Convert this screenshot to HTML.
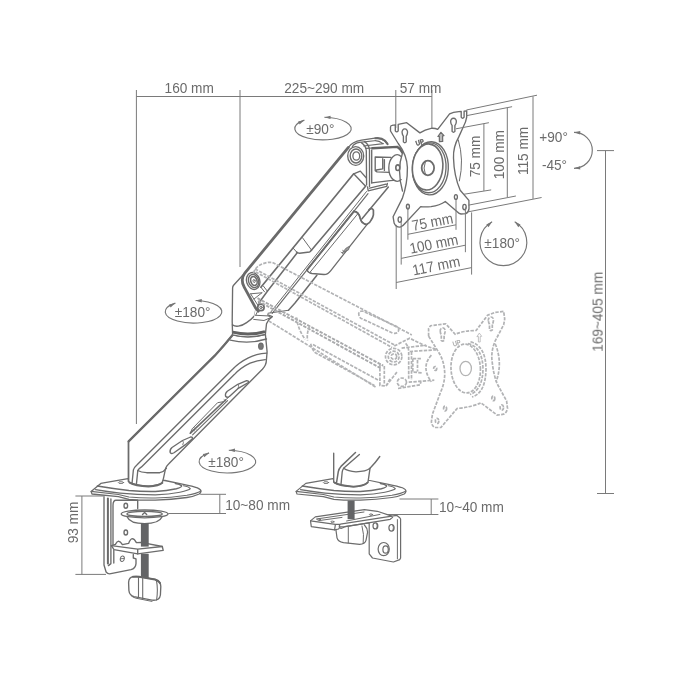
<!DOCTYPE html>
<html><head><meta charset="utf-8">
<style>
html,body{margin:0;padding:0;background:#fff;overflow:hidden;}
svg{display:block;}
text{font-family:"Liberation Sans","DejaVu Sans",sans-serif;fill:#6a6a6a;}
.d{stroke:#7a7a7a;stroke-width:1;fill:none;}
.o{stroke:#6c6c6c;stroke-width:1.35;fill:none;stroke-linejoin:round;stroke-linecap:round;}
.t{stroke:#6a6a6a;stroke-width:2.2;fill:none;stroke-linecap:round;}
.g{stroke:#b2b3b5;stroke-width:1.7;fill:none;stroke-dasharray:3.4 1.3;}
</style></head><body>
<svg width="683" height="683" viewBox="0 0 683 683">
<rect width="683" height="683" fill="#fff"/>
<!-- DIMS -->
<g id="dims" class="d">
<path d="M136.4 90V424"/>
<path d="M240 90V267"/>
<path d="M136.4 96.5H431.9"/>
<path d="M395.8 90V128"/>
<path d="M431.9 90V128"/>
<!-- right tall -->
<path d="M605.5 150.6V493.5M597 150.6H614M597 493.5H614"/>
<!-- 93 -->
<path d="M81.9 496V574.4M75.4 496H104.8M75.4 574.4H106"/>
<!-- 10-80 -->
<path d="M200.2 494.3H226M168.3 513.5H226M219.8 494.3V513.5"/>
<!-- 10-40 -->
<path d="M399.5 499H438.4M366 514.5H438.4M431.2 499V514.5"/>
</g>
<g id="txt" font-size="15" style="opacity:.995">
<text transform="translate(189.2 92.8) scale(0.91 1)" text-anchor="middle">160 mm</text>
<text transform="translate(324.2 92.8) scale(0.91 1)" text-anchor="middle">225~290 mm</text>
<text transform="translate(420.6 92.8) scale(0.91 1)" text-anchor="middle">57 mm</text>
<text transform="translate(480 156.5) rotate(-90) scale(0.91 1)" text-anchor="middle">75 mm</text>
<text transform="translate(504 154.7) rotate(-90) scale(0.91 1)" text-anchor="middle">100 mm</text>
<text transform="translate(528.3 151) rotate(-90) scale(0.91 1)" text-anchor="middle">115 mm</text>
<text transform="translate(433.4 227) rotate(-11.3) scale(0.91 1)" text-anchor="middle">75 mm</text>
<text transform="translate(434.8 249) rotate(-11.3) scale(0.91 1)" text-anchor="middle">100 mm</text>
<text transform="translate(437.2 270.8) rotate(-11.3) scale(0.91 1)" text-anchor="middle">117 mm</text>
<text transform="translate(502.2 248.2) scale(0.91 1)" text-anchor="middle">±180°</text>
<text transform="translate(320.3 134) scale(0.91 1)" text-anchor="middle">±90°</text>
<text transform="translate(192.6 316.8) scale(0.91 1)" text-anchor="middle">±180°</text>
<text transform="translate(226 466.8) scale(0.91 1)" text-anchor="middle">±180°</text>
<text transform="translate(539.3 141.8) scale(0.91 1)" text-anchor="start">+90°</text>
<text transform="translate(541.9 170.2) scale(0.91 1)" text-anchor="start">-45°</text>
<text transform="translate(602.6 311.8) rotate(-90) scale(0.91 1)" text-anchor="middle">169~405 mm</text>
<text transform="translate(78.3 522.5) rotate(-90) scale(0.91 1)" text-anchor="middle">93 mm</text>
<text transform="translate(225.2 509.6) scale(0.91 1)" text-anchor="start">10~80 mm</text>
<text transform="translate(439 512.3) scale(0.91 1)" text-anchor="start">10~40 mm</text>
</g>
<g id="rot" class="d" style="stroke:#767676;stroke-width:1.15">
<path d="M324.4 117.3 A28.2 11.3 0 1 1 304.4 120.1"/>
<path d="M324.4 117.3 L330.6 115.7 L330.5 119.1 Z" fill="#767676" stroke="none"/>
<path d="M304.4 120.1 L299.7 124.4 L298.1 121.4 Z" fill="#767676" stroke="none"/>
<path d="M195.6 300.5 A28.3 11.3 0 1 1 175.4 303.1"/>
<path d="M195.6 300.5 L201.8 299.0 L201.7 302.4 Z" fill="#767676" stroke="none"/>
<path d="M175.4 303.1 L170.6 307.4 L169.1 304.4 Z" fill="#767676" stroke="none"/>
<path d="M228.8 450.2 A28.3 11.4 0 1 1 209.1 452.9"/>
<path d="M228.8 450.2 L235.0 448.6 L234.9 452.0 Z" fill="#767676" stroke="none"/>
<path d="M209.1 452.9 L204.3 457.2 L202.8 454.1 Z" fill="#767676" stroke="none"/>
<path d="M514.7 221.8 A23.4 23.4 0 1 1 492.1 221.8"/>
<path d="M514.7 221.8 L520.5 224.6 L518.3 227.2 Z" fill="#767676" stroke="none"/>
<path d="M492.1 221.8 L488.5 227.2 L486.3 224.6 Z" fill="#767676" stroke="none"/>
<path d="M574.0 132.3 A18.3 18 0 1 1 574.0 168.3"/>
<path d="M574.0 132.3 L580.3 131.0 L580.1 134.4 Z" fill="#767676" stroke="none"/>
<path d="M574.0 168.3 L580.1 166.2 L580.3 169.6 Z" fill="#767676" stroke="none"/>
</g>
<!-- BASE1 -->
<g id="base1" class="o">
<g transform="translate(-205 0)">
<!-- plate -->
<path fill="#fff" d="M296.1 491.4 L305.8 483.4 L333 478.7 L369.9 480.5 L388.4 484.3 Q398 486.2 402.4 487.8 Q406.2 489.4 406 491.4 Q405.6 493 404.2 494 Q399 496.4 391.9 497.5 Q376 499.8 360.3 500.1 Q346 500.4 333.9 499.3 L323.4 496.6 L297 494 Z"/>
<path d="M296.1 491.4 L323.4 494.5 L333.9 497 Q346 498.2 360.3 498 Q376 497.6 391.9 495.2 Q402 493.4 405.6 491.2" stroke-width="1.1"/>
<path d="M300.5 489.6 Q312 491.6 325.1 493.1 Q342 494.8 360.3 494.9 Q374 494.4 384.9 492.2 Q394 490.4 395.4 488.7 Q394 486.6 388.4 485.7" stroke-width="1.1"/>
<path d="M302.3 486.1 Q318 488.8 333.9 490.5 Q347 491.6 360.3 491.4 Q372 490.8 381.4 488.7 Q387 487.2 386.6 485.7 Q385 484 380.4 483.4" style="stroke-width:1.5"/>
<ellipse cx="326" cy="482.6" rx="2.7" ry=".9" stroke-width=".9"/>
</g>
<!-- bracket -->
<path d="M104 497 V565 L106.1 572 Q107.5 573.8 109.6 573.8 L131 569.6 Q135.6 568.4 136 563.6 V558.8 L133.3 558 V554.4"/>
<path class="t" style="stroke-width:2" d="M107.9 498.6 V563.6"/>
<path d="M110.9 499 V563.6 L108.4 565.6 M113 505.4 Q113 500.2 116 500.2 H137.7 V508.5 M113 505.4 V544.8 M113.8 550.2 V563"/>
<ellipse cx="125.8" cy="505.7" rx="1.8" ry="2.5"/>
<ellipse cx="125.8" cy="532.5" rx="1.8" ry="2.5"/>
<ellipse cx="122.3" cy="558.8" rx="2" ry="2.8" stroke-width="1" transform="rotate(12 122.3 558.8)"/><path d="M120.6 558.8l3.4 -.4" stroke-width=".9"/>
<!-- shelf -->
<path fill="#fff" d="M111.4 545.6 L115.4 544.4 Q117 541.4 118.6 541.2 Q120.4 541.2 122.4 544.6 L128.6 543.4 Q130.4 539 132.2 538.7 Q134.4 538.8 136.4 542.6 L141 542.4 L162.3 546.5 L163.2 550.4 L137.7 553.9 L114 549.7 Z"/>
<path d="M111.4 545.6 L137.7 549.2 L162.3 546.5 M137.7 549.2 V553.9"/>
<!-- clamp disc -->
<ellipse cx="144.6" cy="513.9" rx="23.4" ry="3.9" fill="#fff"/>
<ellipse cx="144.6" cy="513.9" rx="17.6" ry="2.5"/>
<path d="M127.2 517 Q130 523.6 144.6 523.6 Q159 523.6 162 517"/>
<path d="M142.5 514.6 l2.1 -2 l2.1 2"/>
<!-- screw -->
<rect x="140.9" y="523.2" width="7.8" height="23.4" fill="#636466" stroke="none"/>
<rect x="140.9" y="553.8" width="7.8" height="24.4" fill="#636466" stroke="none"/>
<!-- knob -->
<path fill="#fff" d="M133.6 576.6 Q128.8 577 128.6 582.5 L128.9 590.5 Q129.4 595.4 134 596.6 L152 600.2 Q159.6 601 160.4 595 L160.8 586.5 Q160.6 581 155 579.4 L139 576.6 Q136 576.3 133.6 576.6 Z"/>
<path style="stroke-width:2;stroke:#666" d="M133 576.8 L139 576.7 L155 579.5 Q158.6 580.5 160 583"/>
<path d="M138.5 577 V597.4 M142.7 577.4 V598.2 M156.4 580.4 Q158.2 589 156.6 600" stroke-width="1.1"/>
<path d="M131 595.6 Q133 597.6 136 598.2 L152 601.4" stroke-width="1"/>
</g>
<!-- BASE2 -->
<g id="base2" class="o" style="stroke-width:1.2">
<!-- plate -->
<path fill="#fff" d="M296.1 491.4 L305.8 483.4 L333 478.7 L369.9 480.5 L388.4 484.3 Q398 486.2 402.4 487.8 Q406.2 489.4 406 491.4 Q405.6 493 404.2 494 Q399 496.4 391.9 497.5 Q376 499.8 360.3 500.1 Q346 500.4 333.9 499.3 L323.4 496.6 L297 494 Z"/>
<path d="M296.1 491.4 L323.4 494.5 L333.9 497 Q346 498.2 360.3 498 Q376 497.6 391.9 495.2 Q402 493.4 405.6 491.2" stroke-width="1.1"/>
<path d="M300.5 489.6 Q312 491.6 325.1 493.1 Q342 494.8 360.3 494.9 Q374 494.4 384.9 492.2 Q394 490.4 395.4 488.7 Q394 486.6 388.4 485.7" stroke-width="1.1"/>
<path d="M302.3 486.1 Q318 488.8 333.9 490.5 Q347 491.6 360.3 491.4 Q372 490.8 381.4 488.7 Q387 487.2 386.6 485.7 Q385 484 380.4 483.4" style="stroke-width:1.5"/>
<ellipse cx="326" cy="482.6" rx="2.7" ry=".9" stroke-width=".9"/>
<!-- knob -->
<path fill="#fff" d="M335.7 528 L337 537.8 Q338 541.6 343.5 542.7 L359.6 544.3 Q365 544 366 540.3 L367.6 532.2 Q367.4 528 364.4 525"/>
<path d="M348.3 527 V542.9 M362 526 Q364.4 534 363.2 543.4" stroke-width="1"/>
<!-- clamp bracket -->
<path fill="#fff" d="M369.2 524 V553.9 L372.5 558 L393.4 562 L399.8 559.6 L400.6 558 V519 L399.8 517.7 L396.6 515.3 L391.8 516.1 L377.3 511.3 L364.4 509.7 L315.3 516.9 L310.5 520.9 L311.3 526.6 L334.6 529.8 L338.6 529 L340 526.8 L345.1 526.6 L369.2 522.8 Z"/>
<path d="M310.5 520.9 L335.4 524.4 L340.3 524.2 L391.8 516.1 M345.1 526.6 L390.2 519.3 L392.6 517.4 M340.3 524.2 Q338.6 526 339.6 527.8 Q341.6 529.2 345.1 526.6 M335.4 524.4 L334.6 529.8"/>
<path d="M316.5 519 L364 512 M319 520.6 L342 517.4 M346.6 521 L380 514.4" stroke-width="1"/>
<path d="M397.4 519.6 V558.8" stroke-width="1"/>
<rect x="347.6" y="500.6" width="7" height="18.6" fill="#636466" stroke="none"/>
<ellipse cx="375.4" cy="525.9" rx="2.4" ry="3"/>
<path d="M376.6 523.4 Q378 526 376.6 528.4" stroke-width=".9"/>
<ellipse cx="391.5" cy="527.8" rx="2.6" ry="3.3"/>
<path d="M392.8 525 Q394.2 527.8 392.8 530.6" stroke-width=".9"/>
<ellipse cx="383.7" cy="549.1" rx="5.6" ry="6.6"/>
<ellipse cx="385.6" cy="549.5" rx="2.7" ry="3.7"/>
<ellipse cx="318.8" cy="519.6" rx="1.6" ry=".7" stroke-width=".9"/>
<ellipse cx="332.4" cy="521.8" rx="1.6" ry=".7" stroke-width=".9"/>
<ellipse cx="371" cy="514.6" rx="1.6" ry=".7" stroke-width=".9"/>
</g>
<!-- ARM -->
<g id="arm" class="o">
<!-- foot2 -->
<g id="foot2">
<path fill="#fff" d="M333.7 453.2 V482.2 Q340 486 353.5 486.8 Q364 486.2 368 482.2 L370 468.3 Q376 462 379.8 456.5 L355.5 452.5 Z" stroke="none"/>
<path d="M333.7 453.2 V482.2 Q340 486 353.5 486.8 Q364 486.2 368 482.2 L370 468.3 Q376 462 379.8 456.5"/>
<path style="stroke-width:1.9" d="M334.5 482.6 Q340 485.8 353.5 486.6 Q364 486 367.6 482.6"/>
<path stroke-width="1.5" d="M355.5 452.5 L341 466.4 Q338.6 469 338.3 471.6 L336.4 483.5"/>
<path d="M359.4 454.5 L343.6 468.3 Q342.4 470 342.2 472 L341 484.4"/>
<path d="M343.6 468.3 Q348 471.4 356 471.8 Q366 471.6 370 468.3"/>
</g>
<!-- lower arm body -->
<path fill="#fff" d="M232.6 335 Q225 344.5 215 355.4 L128.3 441.6 V481.5 Q134 485 146 485.9 Q157 486 162 483 L163.4 478.6 L165.6 468.3 Q166.8 465.4 168.6 463.9 L262.4 369.3 Q266.4 365 266.4 360 L267.1 351.9 L265.4 334.3 Z"/>
<path class="t" style="stroke-width:2.2" d="M232.6 335 Q225 344.5 215 355.4 L128.6 441.4"/>
<path d="M128.7 441.4 V481.5"/>
<path style="stroke-width:1.9" d="M129.5 482.6 Q135 485.8 148.5 486.6 Q159 486 162.4 482.8"/>
<!-- ring lines under collar -->
<path d="M232.6 334.9 Q249 339 265.4 334.3"/>
<path d="M230.2 340.1 Q249 344.5 266.5 339"/>
<!-- side panel outer -->
<path d="M266.6 353.2 Q256 354 248.4 357.9 Q239 362.5 232.6 369.3 L137.1 464.7 Q134 467.5 133.4 469.8 L132 483.7"/>
<!-- inner panel -->
<path d="M265.3 359.6 Q257 360.2 250.1 363.2 Q241 367.5 234.3 374.6 L141.5 466.9 Q138.6 468.8 137.8 470.5 L136.4 484.4"/>
<path d="M137.8 470.5 Q141 472.5 146.6 472.7 L159.8 472.7 Q164 471.5 166.4 468.3"/>
<!-- slots -->
<path d="M227.3 391.3 L237.8 384.3 L246.6 380.7 Q248.8 380.6 248.4 382.5 L237.8 388.7 L229.4 396.5 Q227 398 225.6 396.3 Q224.8 393.6 227.3 391.3 Z"/>
<path d="M238 384.4 Q239.6 386 238.2 388.4" stroke-width=".9"/>
<path d="M172 447.5 L182.5 440.5 L190.6 437 Q192.8 436.8 192.4 438.8 L185.1 444.9 L174 452.8 Q171.6 454.3 170.2 452.6 Q169.4 449.9 172 447.5 Z"/>
<path d="M182.7 440.6 Q184.3 442.2 182.9 444.6" stroke-width=".9"/>
<path d="M225.5 400 L190.4 433.2" style="stroke-width:1.7"/><path d="M227.6 400.6 L192.6 434.8" stroke-width="1.1"/>
<path d="M229.5 396.5 L225.5 400 M222.9 401.8 L217.6 402.7 L192.2 428.8 L190.2 433.2" stroke-width="1"/>
<path d="M193 429.5 l1.6 1.4 M194.6 428 l1.6 1.4 M224 399.6 l1.6 1.4" stroke-width=".8"/>
<ellipse cx="260.9" cy="346.2" rx="2.3" ry="3.1" fill="#777" stroke-width="1.1"/>
<!-- elbow housing -->
<path fill="#fff" d="M245 272.8 L233.8 285 Q232.6 286.3 232.6 288 L232.2 321.5 L232.6 334.9 Q249 339 265.4 334.3 L266.5 323.7 Q268.5 319 272.4 316.7 L258.3 311.2 Z"/>
<path d="M232.4 324.9 Q235 326.6 238.4 326.1 Q243 325.3 246.6 322.6 Q251.5 319.4 254.8 315.5 L255.7 310.2"/>
<path class="t" style="stroke-width:2.9;stroke:#626262;stroke-linecap:butt" d="M232.8 332.2 Q249 336.2 265 331.6"/>
<!-- upper arm body -->
<path fill="#fff" stroke="none" d="M245 272.8 L348.4 147.4 C351 143.5 355 141.3 361.6 140.2 L374.8 138.2 Q382 138 386.7 142.8 L398.5 149.4 L401.8 153.3 L401.8 187 L386.7 186.3 L388.4 187.1 L295 303 L288.5 310.2 L268 313.3 L264 320.5 L253.7 319.4 L255.7 308.2 L244.5 287.7 Q241 280 245 272.8 Z"/>
<path class="t" style="stroke-width:2.8" d="M258.3 311.2 L255.7 308.2 L244.5 287.7 C241.6 283 241.6 277.5 245 272.8 L348.4 147.4"/>
<path d="M348.4 147.4 C351 143.5 355 141.3 361.6 140.2 L374.8 138.2 Q382 138 386.7 142.8"/>
<path style="stroke-width:1.7" d="M353.7 173.8 L260.9 287.2"/>
<path style="stroke-width:1.6" d="M365.6 186.3 L310.3 251.5 Q309.4 252.4 307.5 252.3 L299.6 253.2 Q297.6 253.2 296.6 252"/>
<path stroke-width="1" d="M296.6 252 L293.2 248.2 M302.4 237.6 L311.6 250.2"/>
<path style="stroke-width:1.5" d="M297.2 252.8 L267 291.8 L258.8 303"/>
<path d="M260.9 287.2 L264.5 291.8 M263.4 286.1 L267 290.7" stroke-width="1"/>
<path d="M250.6 293.8 L261.9 292.8 M250.6 293.8 L257.8 305.1 M261.9 292.8 L254 299" stroke-width="1"/>
<path stroke-width="1" d="M366.5 191.5 L270.6 312.3"/>
<path stroke-width="1.15" d="M368 193.7 L272.2 313.3"/>
<path style="stroke-width:1.5" d="M388.4 187.1 L362 218.8 M316.9 275.2 L295 303 L288.5 310.2"/>
<path d="M288.5 310.2 L268 313.3" stroke-width="1.1"/>
<path d="M255.7 315.3 L268 315.9 L271.1 317.4 L264 320.5 L253.7 319.4 M257.5 311.5 L255.7 315.3" stroke-width="1"/>
<!-- clip -->
<path fill="#fff" stroke-width="1.3" d="M353.9 211.3 C357.8 211.6 359.6 215.5 360.1 217.9 C361 221 362 222.5 363.2 223 C364.8 224.6 366 224.6 367.3 224.1 L330.8 270.6 Q328 274.5 324 274.5 L312 273.5 Q308 272.6 307 269.9 Z"/>
<path style="stroke-width:1.9" d="M353.9 211.3 L307 269.9"/>
<path style="stroke-width:1.7" d="M353.9 211.3 C357.8 211.6 359.6 215.5 360.1 217.9 C361 221 362 222.5 363.2 223 C364.8 224.6 366 224.6 367.3 224.1 C369.5 223 370.5 221.5 370.9 220.5 C372.5 218 373.2 216.5 373.4 214.8 L373.4 210.2 Q372.5 208.4 370.9 208.7 Q369.6 209 368.8 210.2"/>
<path d="M357.6 214 L310.4 271.8" stroke-width="1"/>
<path d="M342.4 252.6 L346.2 248 L349.6 246.2 L348.6 249.6 Z" stroke-width=".8" fill="#999"/><path d="M341 252.2 l2.6 2 M342.6 250.4 l2.4 1.8" stroke-width=".8"/>
<!-- lower pivot -->
<ellipse cx="253.2" cy="281" rx="6.6" ry="8.6" fill="#fff" transform="rotate(-18 253.2 281)"/>
<ellipse cx="253.6" cy="281" rx="5" ry="6.8" transform="rotate(-18 253.6 281)"/>
<ellipse cx="253.9" cy="281" rx="3.1" ry="4.6" stroke-width="1.6" transform="rotate(-18 253.9 281)"/>
<ellipse cx="254.1" cy="281" rx="1" ry="1.6" stroke-width=".9" transform="rotate(-18 254.1 281)"/>
<circle cx="260.9" cy="307.4" r="3.2" stroke-width="1.7" fill="#fff"/><circle cx="261" cy="307.4" r="1.2" stroke-width="1"/>
<!-- head -->
<path d="M361.6 142.8 Q366 145.5 366.3 151 L366.6 185 M364.5 141.6 Q369 144.5 369.5 150 V186.4 M371.7 150 V182.9"/>
<path d="M363.6 146 L383.4 143.6 M352.3 146.6 C354 143.9 356.5 142.9 359.5 142.4 L374.4 140.7 Q379 140.4 382.6 143.4" stroke-width="1.1"/>
<path style="stroke-width:2.1" d="M375.4 138.3 Q381.4 137.6 385.1 140.8 L387.6 144.2"/>
<path d="M366 148.4 L386.6 147.2" stroke-width="1.1"/>
<path style="stroke-width:2.4;stroke:#646464" d="M372.4 148.3 L397.2 146.9 Q400.5 148.5 402.3 152.4"/>
<path d="M371.7 182.9 L390.1 180.7 L398.9 179.8 M367.6 187 L368.2 190.9 L386.7 186.3 L387.4 183.5 M369.6 188.2 L386 184.2" />
<path d="M375.2 157 L391 157.4 M375.2 157 V170.6 L377 171.9 L389.3 172.3 M382.7 158.7 V168.8 L376.4 170 M384.4 159.6 V170.4"/>
<path fill="#fff" d="M401.2 156.4 A8.4 13.2 0 1 0 401.2 179.6"/>
<path d="M402.5 153 Q396.6 170 402.5 191"/>
<ellipse cx="397.8" cy="167.7" rx="2" ry="2.8" stroke-width="1.6"/>
<path d="M360.3 171.1 L353.7 173.8 L365.6 186.3 M360.3 171.1 L366.4 178"/>
<!-- upper pivot -->
<ellipse cx="355.7" cy="156" rx="8" ry="9.4" fill="#fff"/>
<ellipse cx="356" cy="156" rx="5.8" ry="7"/>
<ellipse cx="356.3" cy="156" rx="3.4" ry="4.2" stroke-width="1.3"/>
</g>
<!-- GHOST -->
<g id="ghost" class="g">
<!-- arm lines -->
<path d="M253.5 273 Q256 264.5 268 262.4 L272.4 262.4 L411.8 334.9"/>
<path d="M255 268.9 L394.2 344.8 M255.6 271.9 L392 347.4"/>
<path style="stroke:#a9aaac;stroke-width:1.9" d="M257.5 298.2 L383.2 365.7 M258 301 L381 368.4"/>
<path d="M268.7 320.9 L376.6 387.6 M310.7 343.7 Q312 349.5 315.1 352.5 L374.4 385.4 M313 344.6 L379 380.5"/>
<path d="M296.5 317.3 Q298 330 305.3 339.3 M309.7 326.1 Q306.5 333 307.5 340.5"/>
<path d="M359 315.6 Q357.6 311.4 362.4 311 L396.6 326.4 Q400.4 329.6 397.4 332.6 Q395.6 333.8 392.4 333 L361.2 318.4 Q359.4 317.4 359 315.6 Z"/>
<path d="M379.9 363.5 V385.4 L386 386 L397 372 M384.3 366 V384 M386 386 L390 379"/>
<!-- pivot -->
<circle cx="393.7" cy="356.6" r="8.2"/>
<circle cx="393.7" cy="356.6" r="5.4"/>
<circle cx="393.9" cy="356.6" r="2.8"/>
<!-- head -->
<path d="M394.3 346 L409.7 338.2 L424 345.3 L436.3 349.4"/>
<path d="M401.6 348.1 L426.2 345.2"/>
<path d="M405.6 343.3 Q408.5 346 408.7 351.5 V380.2 M411.5 351.5 V380"/>
<path d="M409.7 351.5 L436 349.8 M408.7 382.2 L434.3 380.2 M398 388.5 L420 384.8 L421 381.4"/>
<path d="M412.8 358.7 H421.5 M412.8 358.7 V372 L422 373 M417.5 360 V371.5"/>
<ellipse cx="401.9" cy="382.2" rx="4.6" ry="4.2"/>
<path d="M431.4 355.2 Q420.5 367 431.4 381.8"/>
<ellipse cx="435.2" cy="368.5" rx="1.5" ry="2"/>
<!-- plate -->
<path d="M428.6 336.2 L428.6 328.6 L430.5 325.7 L445.7 323.8 L455.2 334.3 Q464 330.5 476.1 330.5 L487.6 315.2 L495.2 312.4 L503.7 311.4 L504.7 319 L503.7 324.7 L495.2 340.9 Q490.5 352 492.3 362.8 Q493.5 374 497.1 383.7 L506.6 400.9 L507.5 408.5 Q506.5 413 503.7 414.2 L497.1 415.1 L480.9 402.8 Q472 407 457.1 408.5 L440.9 427.5 L434.3 427.5 Q431.6 425 431.4 421.8 L432.4 414.2 L440.9 391.4 Q445 382 444.7 372.3 Q444 360 438.1 351.4 Z"/>
<ellipse cx="465.7" cy="368.5" rx="14.7" ry="24.4" transform="rotate(-3 465.7 368.5)"/>
<path d="M468 343.5 Q482.5 347 483 369 Q482.5 390 470 394.5 M470.5 341.8 Q486 346 486 369.5 Q485.5 393 472 397"/>
<ellipse cx="465.7" cy="368.5" rx="5.7" ry="7.2" stroke-dasharray="none" stroke="#b4b4b4" stroke-width="1.3"/>
<path d="M495.2 343.8 Q503 362.8 496.1 381.8"/>
<path d="M440.3 331.6 a2.5 2.9 0 1 1 4.8 0 q-.2 2.1 -1 3.2 l0 5.6 q-1.4 1.5 -2.8 0 l0 -5.6 q-.8 -1.1 -1 -3.2 z"/>
<path d="M488.4 320.8 a2.6 3 0 1 1 5 0 q-.2 2.2 -1.1 3.3 l0 5.8 q-1.4 1.5 -2.8 0 l0 -5.8 q-.9 -1.1 -1.1 -3.3 z"/>
<ellipse cx="437.1" cy="420.9" rx="1.7" ry="2.6"/>
<ellipse cx="445.1" cy="408.5" rx="1.5" ry="2.3"/>
<ellipse cx="493.3" cy="398.4" rx="1.5" ry="2.3"/>
<ellipse cx="501.8" cy="407.5" rx="1.7" ry="2.6"/>
<path d="M478.4 342 v-5.6 l-1.5 .3 l2.4 -3.6 l2.4 3.2 l-1.5 .3 v5.4 z" stroke-dasharray="none" stroke-width=".8"/>
<text font-size="7.4" font-weight="bold" style="fill:#aaa;stroke:none" transform="translate(453.4 346.8) rotate(-17) scale(.82 1)">UP</text>
</g>
<!-- VESA -->
<g id="vesa" class="o">
<!-- plate outline -->
<path fill="#fff" d="M390.5 131 L390.5 127 Q390.6 125.6 392 125.4 L395.3 124.8 L395.3 130.8 Q396.7 133 398.2 130.8 L398.2 124.4 L406.7 122.7 L419.9 132.9 Q425 129.6 431.1 128.3 Q435 128 437.7 129.3 L449.6 113.8 Q453 112.2 458.8 111.6 L461.2 111.4 L461.2 117.2 Q462.6 119.4 464.1 117.2 L464.1 111.2 L466.7 110.8 L466.7 117.1 Q466 122 463 127.5 L458.8 136.9 Q453 147 453.5 158 Q454 176 460.2 190.2 L468.9 200.4 L469 208.6 Q468.6 212.6 465.8 213.7 L461 214 Q459 213.6 457.5 212 L445.3 201.5 Q440 205.5 431 206.6 Q425 207 420.7 206.6 L405.4 223 Q402.6 226.6 400.2 227.1 Q396 227.5 394.1 223 L393.1 216.8 L402.3 198.4 Q407.6 184 407.4 167.6 Q407 155 398.2 143.5 Z"/>
<!-- big disc -->
<ellipse cx="430.4" cy="168.3" rx="17.9" ry="26.6" transform="rotate(3 430.4 168.3)"/>
<ellipse cx="429.3" cy="167.8" rx="16.7" ry="25" transform="rotate(3 429.3 167.8)" fill="#fff"/>
<ellipse cx="427.6" cy="167" rx="15.2" ry="23" transform="rotate(5 427.6 167)" fill="#fff" stroke-width="1.6"/>
<ellipse cx="427.9" cy="168" rx="6.2" ry="7.3" stroke-width="1.8"/>
<path d="M425.2 162.4 Q422.8 168 425.2 173.8" stroke-width="1"/>
<!-- lens right -->
<path d="M458.3 139.9 Q464.2 159.8 459.4 180.9" stroke-width="1"/>
<!-- keyholes -->
<path d="M402.1 132.6 a2.75 3.1 0 1 1 5.4 0 q-.2 2.3 -1.3 3.5 l0 5.8 q-1.4 1.6 -2.8 0 l0 -5.8 q-1.1 -1.2 -1.3 -3.5 z"/>
<path d="M450.7 122 a2.85 3.2 0 1 1 5.6 0 q-.2 2.4 -1.4 3.6 l0 5.8 q-1.4 1.6 -2.8 0 l0 -5.8 q-1.2 -1.2 -1.4 -3.6 z"/>
<!-- holes -->
<ellipse cx="399.8" cy="219.6" rx="1.7" ry="2.7"/>
<ellipse cx="407.9" cy="206.6" rx="1.5" ry="2.4"/>
<ellipse cx="455.9" cy="197" rx="1.5" ry="2.4"/>
<ellipse cx="464.5" cy="207" rx="1.7" ry="2.7"/>
<!-- arrow + UP -->
<path d="M439.4 141.7 L439.3 136.2 L437.9 136.5 L440.9 132.3 L444 135.6 L442.6 135.9 L442.7 141.4 Z" stroke-width="1.2" fill="#bbb"/>
<text font-size="7.4" font-weight="bold" style="fill:#5a5a5a;stroke:#5a5a5a;stroke-width:.3" transform="translate(416.6 146) rotate(-17) scale(.82 1)">UP</text>
</g>
<g id="dims2" class="d">
<!-- vesa right dims -->
<path d="M466.4 110L537 95.2M466.4 115.7L512.1 106.7M456 128.8L488.9 122.7M463.6 194.3L491.2 189.9M468.3 205.2L515.9 196M468.3 211.8L541.6 197.5"/>
<path d="M483.9 123.9V190.9M507.3 107.7V197M533 96.3V198.9"/>
<!-- vesa bottom dims -->
<path d="M396.2 224.8V289M401.2 221V264.6M407.9 207.4V239.7M456 198.7V229.8M465.4 207.4V252.2M471.6 212.4V274.6"/>
<path d="M407.9 234.3L456 224.8M401.2 258.4L465.4 245.2M396.2 282.5L471.6 267.6"/>
</g>
</svg>
</body></html>
